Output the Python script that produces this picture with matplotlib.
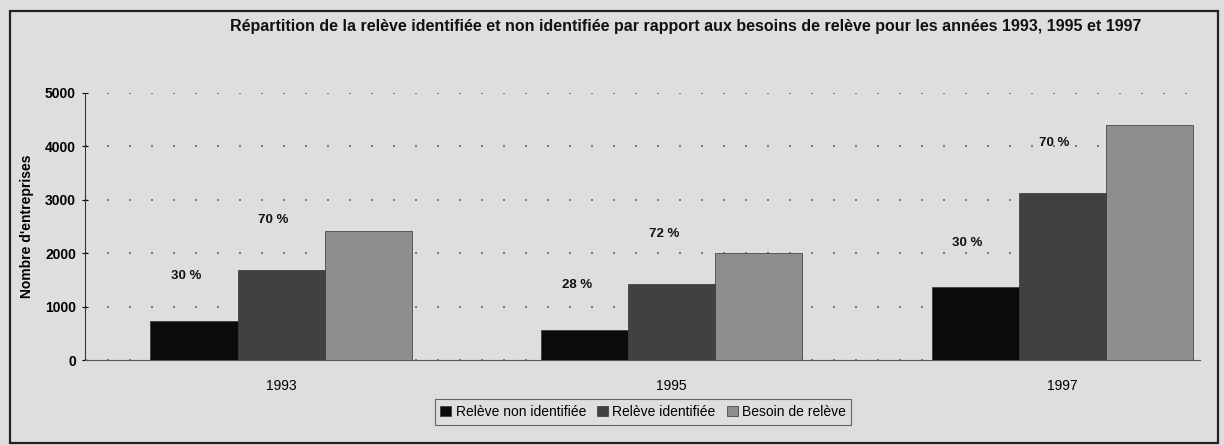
import matplotlib
matplotlib.use("Agg")
from matplotlib import pyplot as plt
from matplotlib.patches import Rectangle
import numpy as np

# data
years = ["1993", "1995", "1997"]
releve_non_identifiee = [730, 560, 1360]
releve_identifiee = [1690, 1420, 3130]
besoin_de_releve = [2410, 2000, 4400]
pct_non_identifiee = [30, 28, 30]
pct_identifiee = [70, 72, 70]

series_names = ["Relève non identifiée", "Relève identifiée", "Besoin de relève"]
title = ("Répartition de la relève identifiée et non identifiée par rapport "
         "aux besoins de relève pour les années 1993, 1995 et 1997")

plt.rcParams["font.family"] = ["Liberation Sans", "DejaVu Sans"]

bg = "#dedede"
colors = ["#0b0b0b", "#414141", "#8e8e8e"]

fig = plt.figure(figsize=(12.24, 4.45), dpi=100)
fig.patch.set_facecolor(bg)

# outer frame of the scanned figure
fig.patches.append(Rectangle((10 / 1224, 2 / 445), 1208 / 1224, 432 / 445,
                             transform=fig.transFigure, fill=False,
                             edgecolor="#222222", linewidth=1.6))

ax = fig.add_axes([85 / 1224, 85 / 445, 1115 / 1224, 267 / 445])
ax.set_facecolor(bg)

x = np.arange(len(years))
w = 0.223
all_series = [releve_non_identifiee, releve_identifiee, besoin_de_releve]
for i, (vals, name, c) in enumerate(zip(all_series, series_names, colors)):
    ax.bar(x + (i - 1) * w, vals, width=w, color=c, edgecolor="#333333",
           linewidth=0.5, label=name, zorder=3)

# percentage labels above the first two bars
for i in range(len(years)):
    ax.text(x[i] - w - 0.02, releve_non_identifiee[i] + 840,
            "%d %%" % pct_non_identifiee[i], ha="center", va="center",
            fontsize=9.5, fontweight="bold", color="#111111")
    ax.text(x[i] - 0.02, releve_identifiee[i] + 940,
            "%d %%" % pct_identifiee[i], ha="center", va="center",
            fontsize=9.5, fontweight="bold", color="#111111")

ax.set_xlim(-0.502, 2.353)
ax.set_ylim(0, 5000)
ax.set_yticks([0, 1000, 2000, 3000, 4000, 5000])
ax.set_xticks(x)
ax.set_xticklabels(years, fontsize=10)
ax.tick_params(axis="x", length=0, pad=14)
ax.tick_params(axis="y", direction="inout", length=5, width=0.8, pad=4,
               labelsize=10)
for lbl in ax.get_yticklabels():
    lbl.set_fontweight("bold")

ax.yaxis.grid(True, linestyle=(0, (1.2, 12)), color="#666666", linewidth=1.2,
              zorder=0)
ax.set_axisbelow(True)
for s in ["top", "right"]:
    ax.spines[s].set_visible(False)
ax.spines["left"].set_color("#333333")
ax.spines["bottom"].set_color("#555555")

ax.set_ylabel("Nombre d'entreprises", fontsize=10, fontweight="bold")
ax.yaxis.set_label_coords(-0.046, 0.5)

fig.text(686 / 1224, 1 - 27 / 445, title, ha="center", va="center",
         fontsize=11.5, fontweight="bold", color="#111111")

leg = fig.legend(loc="center", bbox_to_anchor=(643 / 1224, 1 - 412 / 445),
                 ncol=3, fontsize=10, frameon=True, fancybox=False,
                 handlelength=0.8, handleheight=0.8, handletextpad=0.3,
                 columnspacing=0.8, borderpad=0.4)
leg.get_frame().set_facecolor(bg)
leg.get_frame().set_edgecolor("#444444")
leg.get_frame().set_linewidth(0.8)

fig.savefig("out.png", dpi=100, facecolor=bg)
